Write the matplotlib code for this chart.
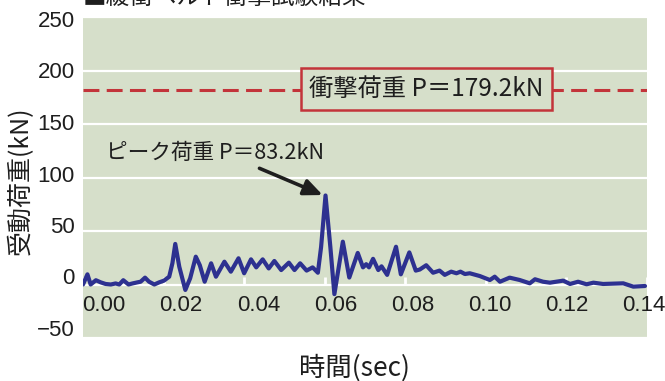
import matplotlib
matplotlib.use('Agg')
import matplotlib.pyplot as plt
import matplotlib.transforms as mtransforms

# ---------------- data ----------------
time_s = [0.0000, 0.0011, 0.0019, 0.0032, 0.0044, 0.0056, 0.0069, 0.0081, 0.0090, 0.0100,
          0.0113, 0.0123, 0.0135, 0.0143, 0.0154, 0.0164, 0.0177, 0.0189, 0.0201, 0.0214,
          0.0222, 0.0229, 0.0239, 0.0254, 0.0266, 0.0280, 0.0290, 0.0302, 0.0318, 0.0330,
          0.0351, 0.0367, 0.0386, 0.0400, 0.0417, 0.0430, 0.0446, 0.0461, 0.0475, 0.0492,
          0.0511, 0.0525, 0.0539, 0.0555, 0.0570, 0.0583, 0.0591, 0.0602, 0.0614, 0.0624,
          0.0645, 0.0661, 0.0682, 0.0695, 0.0703, 0.0710, 0.0720, 0.0733, 0.0741, 0.0755,
          0.0777, 0.0789, 0.0810, 0.0826, 0.0836, 0.0852, 0.0869, 0.0885, 0.0898, 0.0914,
          0.0927, 0.0937, 0.0948, 0.0960, 0.0985, 0.1010, 0.1022, 0.1035, 0.1059, 0.1084,
          0.1109, 0.1122, 0.1142, 0.1159, 0.1192, 0.1209, 0.1229, 0.1250, 0.1267, 0.1291,
          0.1341, 0.1366, 0.1395]
load_kN = [0, 9.5, 0, 4, 2, 0.5, 0, 1, 0, 4,
           0, 1, 2, 2.6, 6.4, 2.6, 0, 2, 3.6, 7.3,
           20, 37.9, 16.6, -5.1, 5.8, 26, 18, 2.6, 19.8, 7.3,
           21.3, 12, 24.5, 10.5, 23.5, 16, 23.5, 15, 22, 13.5,
           20.4, 13.5, 19.8, 13, 16, 11, 35, 83.2, 35, -9,
           40, 6.5, 29.5, 16, 19, 16, 24, 13.5, 17, 9,
           35.3, 9.5, 30, 13, 14, 18, 11, 13, 9, 12,
           10.5, 12, 9.8, 10.5, 7.9, 4.2, 7.3, 2.6, 6.4, 4.2,
           1.1, 4.9, 2.6, 1.7, 3.6, 0.5, 2.6, 0.2, 1.7, 0.5,
           1.1, -2, -1.4]

impact_level = 182.0
impact_label = '衝撃荷重 P＝179.2kN'
peak_label = 'ピーク荷重 P＝83.2kN'
peak_point = (0.0595, 83.6)
arrow_start = (0.0438, 108.6)
peak_text_pos = (0.0057, 122.9)
impact_text_pos = (0.0853, 182.4)

xticks = [0.00, 0.02, 0.04, 0.06, 0.08, 0.10, 0.12, 0.14]
xtick_labels = ['0.00', '0.02', '0.04', '0.06', '0.08', '0.10', '0.12', '0.14']
yticks = [250, 200, 150, 100, 50, 0, -50]
ytick_labels = ['250', '200', '150', '100', '50', '0', '−50']

title = '■緩衝ベルト衝撃試験結果'
ylabel = '受動荷重(kN)'
xlabel = '時間(sec)'

# ---------------- style ----------------
CJK = ['Noto Sans CJK JP', 'DejaVu Sans']
NUM = ['Liberation Sans Narrow', 'Liberation Sans', 'DejaVu Sans']
BG = '#d6dfca'
LINE = '#2d3190'
RED = '#c3343a'
TXT = '#1e1e1e'

fig = plt.figure(figsize=(6.65, 3.81), dpi=100)
fig.patch.set_facecolor('white')
ax = fig.add_axes([83 / 665, 1 - 338 / 381, (647 - 83) / 665, (338 - 17) / 381])
ax.set_facecolor(BG)
ax.set_xlim(0, 0.14)
ax.set_ylim(-50, 250)
for s in ax.spines.values():
    s.set_visible(False)

# horizontal white grid
ax.set_yticks(yticks)
ax.set_yticklabels(ytick_labels, family=NUM, fontsize=16, color=TXT)
ax.yaxis.grid(True, color='white', lw=1.6)
ax.xaxis.grid(False)
ax.set_axisbelow(True)
ax.tick_params(axis='y', length=0, pad=6)

# x axis at zero line, white inward ticks, labels below
ax.spines['bottom'].set_position(('data', 0))
ax.set_xticks(xticks)
ax.set_xticklabels(xtick_labels, family=NUM, fontsize=16, color=TXT)
ax.tick_params(axis='x', direction='in', length=6, width=2, color='white', pad=7.5)

for k, lbl in enumerate(ax.get_xticklabels()):
    dx = (21 - 3.4 * k) / 100.0
    lbl.set_transform(lbl.get_transform() + mtransforms.ScaledTranslation(dx, 0, fig.dpi_scale_trans))
for lbl, v in zip(ax.get_yticklabels(), yticks):
    k = (250 - v) / 50.0
    dy = (2 * k - 2) / 100.0
    lbl.set_transform(lbl.get_transform() + mtransforms.ScaledTranslation(0, dy, fig.dpi_scale_trans))

# signal
ax.plot(time_s, load_kN, color=LINE, lw=3.0, solid_joinstyle='round', solid_capstyle='round', zorder=3)

# impact load dashed line + box
ax.axhline(impact_level, color=RED, lw=2.2, linestyle=(0, (5.2, 2.4)), zorder=2)
ax.text(impact_text_pos[0], impact_text_pos[1], impact_label, family=CJK, fontsize=17.5,
        color=TXT, ha='center', va='center', zorder=4,
        bbox=dict(boxstyle='square,pad=0.33', fc=BG, ec=RED, lw=1.8))

# peak annotation
ax.annotate('', xy=peak_point, xytext=arrow_start,
            arrowprops=dict(arrowstyle='-|>,head_length=0.8,head_width=0.35', lw=2.6,
                            color=TXT, mutation_scale=14, shrinkA=0, shrinkB=0), zorder=5)
ax.text(peak_text_pos[0], peak_text_pos[1], peak_label, family=CJK, fontsize=15.6,
        color=TXT, ha='left', va='center', zorder=4)

# labels
ax.set_ylabel(ylabel, family=CJK, fontsize=18, color=TXT)
ax.yaxis.set_label_coords((34 - 83) / 564, 0.49)
ax.set_xlabel(xlabel, family=CJK, fontsize=19, color=TXT)
ax.xaxis.set_label_coords((354 - 83) / 564, (338 - 354) / 321)

fig.text(83 / 665, 1 - 9 / 381, title, family=CJK, fontsize=17, color=TXT,
         ha='left', va='bottom')

fig.savefig('out.png', dpi=100, facecolor='white')
